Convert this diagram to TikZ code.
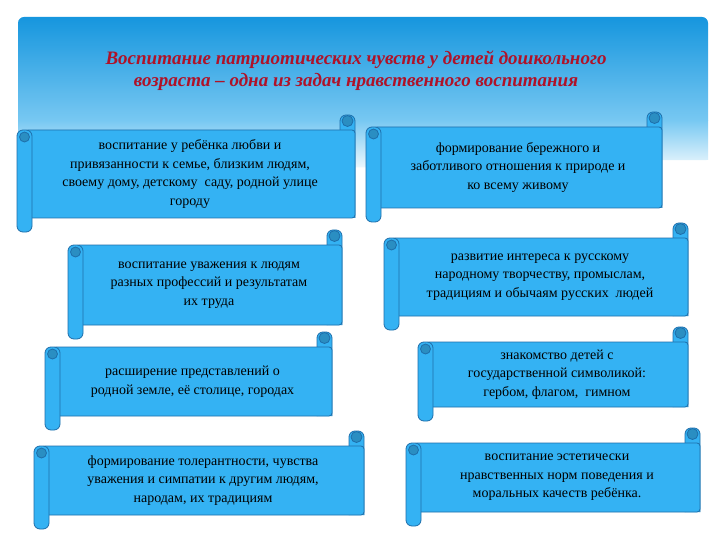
\documentclass[tikz,border=0pt]{standalone}
\usepackage{fontspec}
\setmainfont{Liberation Serif}
\usetikzlibrary{calc}
\definecolor{sb}{RGB}{52,178,243}
\definecolor{sbd}{RGB}{30,110,170}
\definecolor{hd}{RGB}{22,150,222}
\definecolor{hl}{RGB}{120,200,242}
\definecolor{tr}{RGB}{175,18,40}
\tikzset{
 roll/.style={fill=sb,draw=sbd,line width=0.8pt},
 curl/.style={fill=sb!80!black,draw=sbd,line width=0.8pt},
 txt/.style={align=center,font=\fontsize{14}{18.5}\selectfont,text=black,inner sep=0pt},
}
\newcommand\scrl[6]{% x1 y1 x2 y2 name text
 \draw[roll,rounded corners=6pt] (#3-15,#4) -- (#3-15,#2-15) -- (#3,#2-15) -- (#3,#4);
 \draw[curl] (#3-7.5,#2-9) circle (5.5);
 \draw[roll,rounded corners=3pt] (#1+8,#2) rectangle (#3,#4);
 \draw[roll,rounded corners=6pt] (#1+15,#2) -- (#1,#2) -- (#1,#4+14) -- (#1+15,#4+14) -- cycle;
 \draw[curl] (#1+7.5,#2+7) circle (5);
 \node[txt] (#5) at ({(#1+#3)/2+4},{(#2+#4)/2}) {#6};
}
\begin{document}
\begin{tikzpicture}[x=1pt,y=-1pt]
\useasboundingbox (0,0) rectangle (720,540);
\fill[white] (0,0) rectangle (720,540);
\shade[top color=hd,bottom color=hl] (18,121) [rounded corners=6pt] -- (18,17) -- (708,17) [sharp corners] -- (708,121) -- cycle;
\shade[top color=hl,bottom color=white] (18,120.5) -- (708,120.5) -- (708,160) .. controls (500,160) and (300,175) .. (18,168) -- cycle;
\node[font=\fontsize{19}{22}\selectfont\bfseries\itshape,text=tr,align=center] (title) at (356,71)
 {Воспитание патриотических чувств у детей дошкольного\\возраста – одна из задач нравственного воспитания};
\scrl{17}{130}{355}{218}{b1}{воспитание у ребёнка любви и\\привязанности к семье, близким людям,\\своему дому, детскому \ саду, родной улице\\городу}
\scrl{366}{127}{662}{208}{b2}{формирование бережного и\\заботливого отношения к природе и\\ко всему живому}
\scrl{68}{245}{342}{325}{b3}{воспитание уважения к людям\\разных профессий и результатам\\их труда}
\scrl{384}{238}{688}{316}{b4}{развитие интереса к русскому\\народному творчеству, промыслам,\\традициям и обычаям русских \ людей}
\scrl{45}{347}{332}{416}{b5}{расширение представлений о\\родной земле, её столице, городах}
\scrl{418}{342}{688}{407}{b6}{знакомство детей с\\государственной символикой:\\гербом, флагом, \ гимном}
\scrl{34}{446}{364}{515}{b7}{формирование толерантности, чувства\\уважения и симпатии к другим людям,\\народам, их традициям}
\scrl{406}{443}{700}{512}{b8}{воспитание эстетически\\нравственных норм поведения и\\моральных качеств ребёнка.}
\end{tikzpicture}
\end{document}
